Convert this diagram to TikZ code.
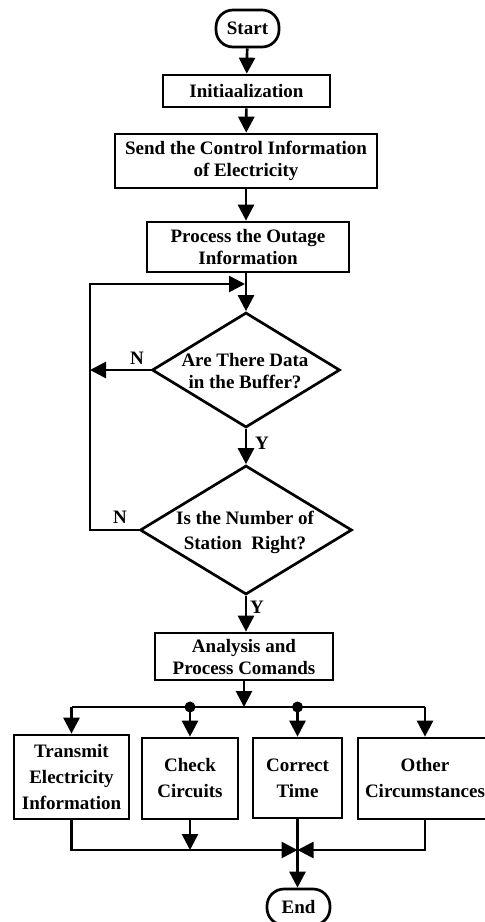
\documentclass[tikz,border=0pt]{standalone}
\usepackage{fontspec}
\setmainfont{Liberation Serif}
\usetikzlibrary{arrows.meta,shapes.geometric,calc}
\begin{document}
\begin{tikzpicture}[x=1pt,y=-1pt,
  line width=2.7pt,
  font=\fontsize{19}{22}\selectfont\bfseries,
  >={Triangle[length=16pt,width=16pt]},
  box/.style={draw,rectangle,align=center,inner sep=0pt},
  pill/.style={draw,rectangle,rounded corners=17pt,inner sep=0pt},
  dec/.style={draw,diamond,inner sep=0pt},
  txt/.style={align=center,inner sep=0pt},
  tall/.style={font=\fontsize{19}{26}\selectfont\bfseries},
  lbl/.style={inner sep=0pt},
  dot/.style={fill,circle,inner sep=0pt,minimum size=11pt}]
\useasboundingbox (0,0) rectangle (485,922);

% main column
\node[pill,minimum width=63pt,minimum height=37pt] (start) at (247.5,28.5) {Start};
\node[box,minimum width=167pt,minimum height=32pt] (init) at (246.5,91) {Initiaalization};
\node[box,minimum width=262pt,minimum height=54pt] (send) at (246,161) {Send the Control Information\\of Electricity};
\node[box,minimum width=202pt,minimum height=50pt] (proc) at (248,247) {Process the Outage\\Information};

% decisions
\node[dec,minimum width=188pt,minimum height=115pt] (d1) at (246,370) {};
\node[txt] (d1t) at (245,371) {Are There Data\\in the Buffer?};
\node[dec,minimum width=212pt,minimum height=129pt] (d2) at (246,530) {};
\node[txt,font=\fontsize{19}{25}\selectfont\bfseries] (d2t) at (245,532) {Is the Number of\\Station\ \ Right?};

\node[box,minimum width=178pt,minimum height=47pt] (ana) at (244,656.5) {Analysis and\\Process Comands};

% branches
\node[box,tall,minimum width=115pt,minimum height=84pt] (t1) at (71.5,777) {Transmit\\Electricity\\Information};
\node[box,tall,minimum width=96pt,minimum height=81pt] (t2) at (190,778.5) {Check\\Circuits};
\node[box,tall,minimum width=89pt,minimum height=80pt] (t3) at (297.5,778) {Correct\\Time};
\node[box,tall,minimum width=134pt,minimum height=81pt] (t4) at (425,778.5) {Other\\Circumstances};

\node[pill,minimum width=63pt,minimum height=36pt] (end) at (298.5,907) {End};

% labels
\node[lbl] (n1) at (137,358) {N};
\node[lbl] (n2) at (120,517) {N};
\node[lbl] (y1) at (262,443) {Y};
\node[lbl] (y2) at (257,607) {Y};

% helper points
\coordinate (loopx) at (90,0);
\coordinate (entry) at (245,284);
\coordinate (split) at (244,707);
\coordinate (join) at (297.5,850);
\coordinate (sp1) at (190,707);
\coordinate (sp2) at (297.5,707);

% connectors down the column
\draw[->] (start) -- (init);
\draw[->] (init) -- (send);
\draw[->] (send) -- (send.south |- proc.north);
\draw[->] (d1.north |- proc.south) -- (d1.north);
\draw[->] (d1.south) -- (d2.north);
\draw[->] (d2.south) -- (ana.north -| d2.south);

% retry loop
\draw[->] (d1.west) -- (d1.west -| loopx);
\draw[->] (d2.west) -- (d2.west -| loopx) -- (entry -| loopx) -- (entry);

% fan-out
\draw[->] (ana.south) -- (split);
\draw (t1.north |- split) -- (t4.north |- split);
\draw[->] (t1.north |- split) -- (t1.north);
\draw[->] (sp1) -- (t2.north);
\draw[->] (sp2) -- (t3.north);
\draw[->] (t4.north |- split) -- (t4.north);
\node[dot] (j1) at (sp1) {};
\node[dot] (j2) at (sp2) {};

% fan-in
\draw[->] (t1.south) -- (t1.south |- join) -- (join);
\draw[->] (t4.south) -- (t4.south |- join) -- (join);
\draw[->] (t2.south) -- (t2.south |- join);
\draw[->] (t3.south) -- (end.north -| t3.south);
\end{tikzpicture}
\end{document}
